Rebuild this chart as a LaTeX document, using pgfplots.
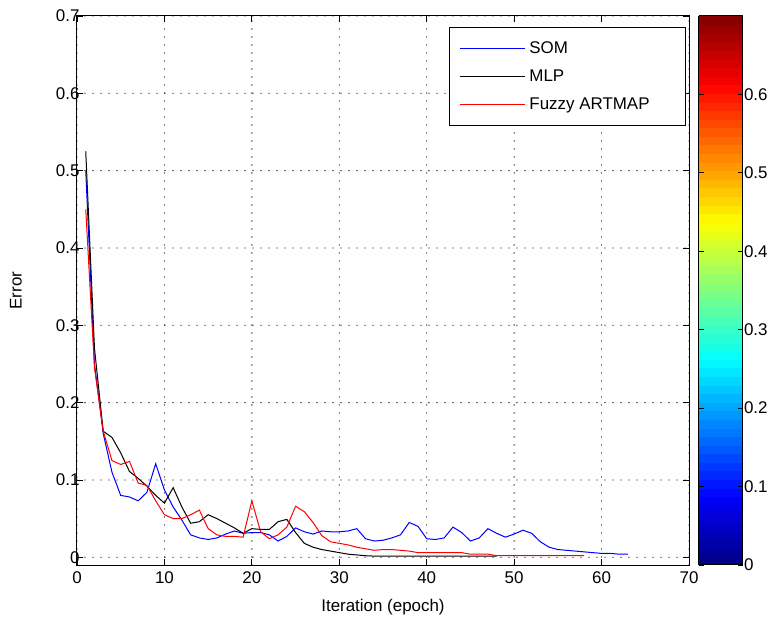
\documentclass[border=0pt]{standalone}
\usepackage{fontspec}
\setmainfont{Liberation Sans}
\usepackage{pgfplots}
\pgfplotsset{compat=1.18}
\begin{document}
\begin{tikzpicture}
\begin{axis}[
  name=ax,
  scale only axis,
  width=612bp, height=549bp,
  xmin=0, xmax=70, ymin=-0.01, ymax=0.7,
  xtick={0,10,...,70}, ytick={0,0.1,...,0.7},
  /pgf/number format/assume math mode=true,
  yticklabel style={/pgf/number format/fixed, /pgf/number format/precision=1, xshift=6bp},
  xticklabel style={yshift=-3bp},
  font=\fontsize{17}{19}\selectfont,
  grid=major,
  major grid style={black, line width=1.3bp, dash pattern=on 0bp off 8bp, line cap=round},
  tick style={black, line width=0.8bp},
  major tick length=6bp,
  axis line style={black, line width=1bp},
  xlabel={Iteration (epoch)}, ylabel={Error},
  xlabel style={at={(axis description cs:0.5,-0.0765)}, anchor=center},
  ylabel style={at={(axis description cs:-0.0997,0.5)}, anchor=center, rotate=0},
  colorbar sampled, colormap/jet, point meta min=0, point meta max=0.7,
  colorbar style={
    at={(parent axis.north east)}, anchor=north west, xshift=1bp,
    width=44bp,
    samples=65,
    ytick={0,0.1,...,0.6},
    yticklabel style={/pgf/number format/fixed, /pgf/number format/precision=1, font=\fontsize{17}{19}\selectfont, xshift=-2bp},
    /pgf/number format/assume math mode=true,
    major tick length=5bp,
    tick style={black, line width=0.8bp},
    axis line style={black, line width=1bp},
  },
  legend style={at={(0.995,0.98)}, anchor=north east, line width=0.8bp,
    font=\fontsize{17}{19}\selectfont, row sep=11bp, inner xsep=10bp, inner ysep=12bp},
  legend cell align=left,
  legend image code/.code={\draw[#1] plot coordinates {(0bp,0bp) (65bp,0bp)};},
]
\addplot[color=blue, line width=1bp] coordinates {
(1,0.50)(2,0.25)(3,0.16)(4,0.11)(5,0.080)(6,0.078)(7,0.073)(8,0.084)(9,0.121)(10,0.087)
(11,0.065)(12,0.048)(13,0.029)(14,0.025)(15,0.023)(16,0.025)(17,0.030)(18,0.034)(19,0.031)(20,0.032)
(21,0.032)(22,0.029)(23,0.021)(24,0.027)(25,0.038)(26,0.033)(27,0.030)(28,0.034)(29,0.033)(30,0.033)
(31,0.034)(32,0.037)(33,0.024)(34,0.021)(35,0.022)(36,0.025)(37,0.029)(38,0.045)(39,0.040)(40,0.024)
(41,0.023)(42,0.025)(43,0.039)(44,0.032)(45,0.021)(46,0.025)(47,0.037)(48,0.031)(49,0.026)(50,0.030)
(51,0.035)(52,0.031)(53,0.020)(54,0.013)(55,0.010)(56,0.009)(57,0.008)(58,0.007)(59,0.006)(60,0.005)
(61,0.005)(62,0.004)(63,0.004)
};
\addlegendentry{\hspace*{2bp}SOM}
\addplot[color=black, line width=1bp] coordinates {
(1,0.525)(2,0.27)(3,0.163)(4,0.155)(5,0.135)(6,0.111)(7,0.102)(8,0.092)(9,0.080)(10,0.070)
(11,0.090)(12,0.065)(13,0.044)(14,0.046)(15,0.055)(16,0.050)(17,0.044)(18,0.038)(19,0.031)(20,0.037)
(21,0.036)(22,0.036)(23,0.046)(24,0.049)(25,0.032)(26,0.018)(27,0.013)(28,0.010)(29,0.008)(30,0.006)
(31,0.004)(32,0.003)(33,0.002)(34,0.0015)(36,0.0015)(38,0.0015)(40,0.0015)(42,0.0015)(44,0.0015)(46,0.0015)(48,0.0015)
};
\addlegendentry{\hspace*{2bp}MLP}
\addplot[color=red, line width=1bp] coordinates {
(1,0.45)(2,0.245)(3,0.163)(4,0.125)(5,0.120)(6,0.124)(7,0.096)(8,0.093)(9,0.073)(10,0.055)
(11,0.050)(12,0.050)(13,0.055)(14,0.061)(15,0.037)(16,0.029)(17,0.027)(18,0.027)(19,0.026)(20,0.073)
(21,0.033)(22,0.024)(23,0.029)(24,0.039)(25,0.066)(26,0.059)(27,0.045)(28,0.028)(29,0.020)(30,0.018)
(31,0.016)(32,0.013)(33,0.011)(34,0.009)(35,0.010)(36,0.010)(37,0.009)(38,0.008)(39,0.006)(40,0.006)
(41,0.006)(42,0.006)(43,0.006)(44,0.006)(45,0.004)(46,0.004)(47,0.004)(48,0.002)(50,0.002)(52,0.002)
(54,0.002)(56,0.002)(58,0.002)
};
\addlegendentry{\hspace*{2bp}Fuzzy ARTMAP\hspace*{24bp}}
\end{axis}
\pgfresetboundingbox
\path[use as bounding box] ([shift={(-77bp,-60bp)}]ax.south west) rectangle ([shift={(86bp,16bp)}]ax.north east);
\end{tikzpicture}
\end{document}
